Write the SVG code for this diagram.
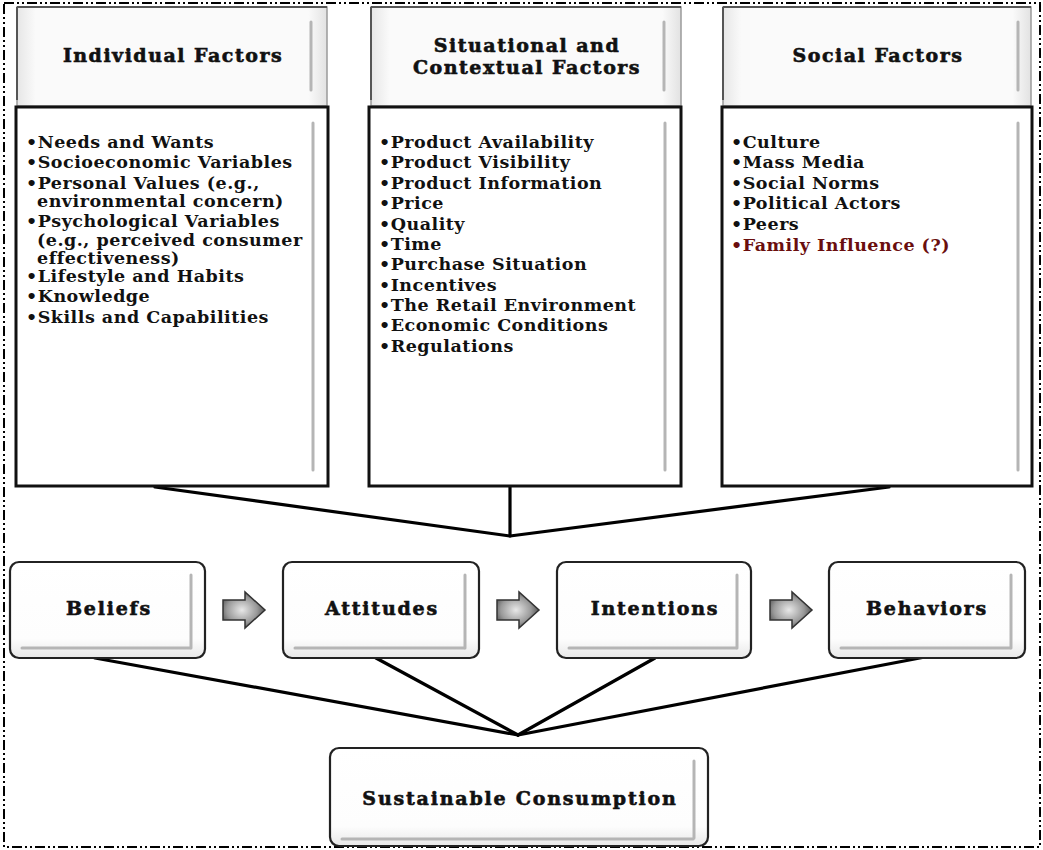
<svg xmlns="http://www.w3.org/2000/svg" width="1043" height="850" viewBox="0 0 1043 850">
<defs>
<style>
.hdr{fill:url(#hg);stroke:#9a9a9a;stroke-width:1.5}
.hdrtop{stroke:#555;stroke-width:2;fill:none}
.bev{stroke:#b5b5b5;stroke-width:3;stroke-linecap:round;fill:none}
.cbox{fill:#fff;stroke:#111;stroke-width:3}
.pbox{fill:url(#pg);stroke:#222;stroke-width:2.2}
.title{font-family:"DejaVu Serif","Liberation Serif",serif;font-weight:bold;font-size:19px;letter-spacing:1.5px;fill:#111;stroke:#111;stroke-width:0.6;text-anchor:middle}
.ptitle{font-family:"DejaVu Serif","Liberation Serif",serif;font-weight:bold;font-size:19px;letter-spacing:1.8px;fill:#111;stroke:#111;stroke-width:0.6;text-anchor:middle}
.item{font-family:"DejaVu Serif","Liberation Serif",serif;font-size:17.5px;letter-spacing:0.5px;fill:#111;font-weight:600}
.red{fill:#6a0e0e;font-weight:bold}
.conn{stroke:#000;stroke-width:3.2;fill:none;stroke-linecap:round;stroke-linejoin:round}
.arrow{fill:url(#ag);stroke:#333;stroke-width:1.5}
</style>
<linearGradient id="hg" x1="0" y1="0" x2="1" y2="0">
<stop offset="0" stop-color="#e6e6e6"/>
<stop offset="0.06" stop-color="#fafafa"/>
<stop offset="0.94" stop-color="#fafafa"/>
<stop offset="1" stop-color="#e2e2e2"/>
</linearGradient>
<linearGradient id="pg" x1="0" y1="0" x2="0" y2="1">
<stop offset="0" stop-color="#ffffff"/>
<stop offset="0.8" stop-color="#fdfdfd"/>
<stop offset="1" stop-color="#e8e8e8"/>
</linearGradient>
<radialGradient id="ag" cx="0.45" cy="0.5" r="0.6">
<stop offset="0" stop-color="#e8e8e8"/>
<stop offset="0.6" stop-color="#9a9a9a"/>
<stop offset="1" stop-color="#444"/>
</radialGradient>
</defs>

<rect x="0" y="0" width="1043" height="850" fill="#fff"/>
<rect id="frame" x="4" y="3" width="1036" height="844" fill="none" stroke="#000" stroke-width="2" stroke-dasharray="10 3 2 3 2 3"/>

<g id="connectors">
<polyline class="conn" points="155,487 510,536 889,487"/>
<line class="conn" x1="510" y1="486" x2="510" y2="536"/>
<line class="conn" x1="95" y1="658" x2="518" y2="735"/>
<line class="conn" x1="376" y1="658" x2="518" y2="735"/>
<line class="conn" x1="655" y1="658" x2="518" y2="735"/>
<line class="conn" x1="925" y1="657" x2="518" y2="735"/>
<path class="arrow" d="M223,600 H245 V592 L265,610 L245,628 V620 H223 Z"/>
<path class="arrow" d="M497,600 H519 V592 L539,610 L519,628 V620 H497 Z"/>
<path class="arrow" d="M770,600 H792 V592 L812,610 L792,628 V620 H770 Z"/>
</g>

<g id="individual-header">
<rect class="hdr" x="17" y="7" width="310" height="99"/>
<line class="hdrtop" x1="17" y1="7" x2="327" y2="7"/>
<line class="hdrtop" x1="17" y1="7" x2="17" y2="100"/>
<line class="bev" x1="311" y1="22" x2="311" y2="90"/>
<text class="title" x="173" y="62">Individual Factors</text>
</g>
<g id="situational-header">
<rect class="hdr" x="371" y="7" width="310" height="99"/>
<line class="hdrtop" x1="371" y1="7" x2="681" y2="7"/>
<line class="hdrtop" x1="371" y1="7" x2="371" y2="100"/>
<line class="bev" x1="664" y1="22" x2="664" y2="90"/>
<text class="title" x="527" y="52">Situational and</text>
<text class="title" x="527" y="74">Contextual Factors</text>
</g>
<g id="social-header">
<rect class="hdr" x="723" y="7" width="308" height="99"/>
<line class="hdrtop" x1="723" y1="7" x2="1031" y2="7"/>
<line class="hdrtop" x1="723" y1="7" x2="723" y2="100"/>
<line class="bev" x1="1018" y1="22" x2="1018" y2="90"/>
<text class="title" x="878" y="62">Social Factors</text>
</g>

<g id="individual-list">
<rect class="cbox" x="16" y="107" width="312" height="379"/>
<line class="bev" x1="313" y1="123" x2="313" y2="470"/>
<text class="item" x="26" y="148">•Needs and Wants</text>
<text class="item" x="26" y="168">•Socioeconomic Variables</text>
<text class="item" x="26" y="189">•Personal Values (e.g.,</text>
<text class="item" x="37" y="207">environmental concern)</text>
<text class="item" x="26" y="227">•Psychological Variables</text>
<text class="item" x="37" y="246">(e.g., perceived consumer</text>
<text class="item" x="37" y="264">effectiveness)</text>
<text class="item" x="26" y="282">•Lifestyle and Habits</text>
<text class="item" x="26" y="302">•Knowledge</text>
<text class="item" x="26" y="323">•Skills and Capabilities</text>
</g>

<g id="situational-list">
<rect class="cbox" x="369" y="107" width="312" height="379"/>
<line class="bev" x1="665" y1="123" x2="665" y2="470"/>
<text class="item" x="379" y="148">•Product Availability</text>
<text class="item" x="379" y="168">•Product Visibility</text>
<text class="item" x="379" y="189">•Product Information</text>
<text class="item" x="379" y="209">•Price</text>
<text class="item" x="379" y="230">•Quality</text>
<text class="item" x="379" y="250">•Time</text>
<text class="item" x="379" y="270">•Purchase Situation</text>
<text class="item" x="379" y="291">•Incentives</text>
<text class="item" x="379" y="311">•The Retail Environment</text>
<text class="item" x="379" y="331">•Economic Conditions</text>
<text class="item" x="379" y="352">•Regulations</text>
</g>

<g id="social-list">
<rect class="cbox" x="722" y="107" width="310" height="379"/>
<line class="bev" x1="1018" y1="123" x2="1018" y2="470"/>
<text class="item" x="731" y="148">•Culture</text>
<text class="item" x="731" y="168">•Mass Media</text>
<text class="item" x="731" y="189">•Social Norms</text>
<text class="item" x="731" y="209">•Political Actors</text>
<text class="item" x="731" y="230">•Peers</text>
<text class="item red" x="731" y="251">•Family Influence (?)</text>
</g>

<g id="beliefs">
<rect class="pbox" x="10" y="562" width="195" height="96" rx="9"/>
<line class="bev" x1="191" y1="575" x2="191" y2="648"/>
<line class="bev" x1="22" y1="648" x2="190" y2="648" stroke-width="1.5"/>
<text class="ptitle" x="109" y="615">Beliefs</text>
</g>
<g id="attitudes">
<rect class="pbox" x="283" y="562" width="196" height="96" rx="9"/>
<line class="bev" x1="465" y1="575" x2="465" y2="648"/>
<line class="bev" x1="295" y1="648" x2="464" y2="648" stroke-width="1.5"/>
<text class="ptitle" x="382" y="615">Attitudes</text>
</g>
<g id="intentions">
<rect class="pbox" x="557" y="562" width="194" height="96" rx="9"/>
<line class="bev" x1="737" y1="575" x2="737" y2="648"/>
<line class="bev" x1="569" y1="648" x2="736" y2="648" stroke-width="1.5"/>
<text class="ptitle" x="655" y="615">Intentions</text>
</g>
<g id="behaviors">
<rect class="pbox" x="829" y="562" width="196" height="96" rx="9"/>
<line class="bev" x1="1011" y1="575" x2="1011" y2="648"/>
<line class="bev" x1="841" y1="648" x2="1010" y2="648" stroke-width="1.5"/>
<text class="ptitle" x="927" y="615">Behaviors</text>
</g>
<g id="sustainable-consumption">
<rect class="pbox" x="330" y="748" width="378" height="98" rx="9"/>
<line class="bev" x1="694" y1="761" x2="694" y2="838"/>
<line class="bev" x1="342" y1="839" x2="693" y2="839" stroke-width="1.5"/>
<text class="ptitle" x="520" y="805">Sustainable Consumption</text>
</g>
</svg>
